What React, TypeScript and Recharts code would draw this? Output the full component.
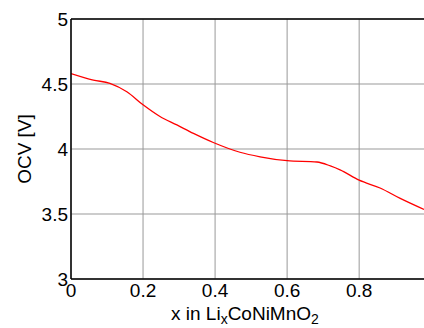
import { LineChart, Line, XAxis, YAxis, CartesianGrid, ReferenceLine } from "recharts";

// state of charge x in LixCoNiMnO2
const xValues = [0, 0.062, 0.108, 0.155, 0.2, 0.247, 0.294, 0.34, 0.395, 0.469, 0.525, 0.6, 0.683, 0.72, 0.747, 0.8, 0.858, 0.914, 0.98];
// open circuit voltage [V]
const ocvValues = [4.58, 4.53, 4.505, 4.44, 4.34, 4.25, 4.185, 4.12, 4.05, 3.975, 3.94, 3.91, 3.9, 3.87, 3.84, 3.76, 3.7, 3.62, 3.535];

const xTicks = [0, 0.2, 0.4, 0.6, 0.8];
const yTicks = [3, 3.5, 4, 4.5, 5];

const data = xValues.map((x, i) => ({ x, ocv: ocvValues[i] }));

const FONT = "Liberation Sans, Arial, sans-serif";
const FS = 19;

function XLabel() {
  return (
    <text x={171} y={320} fontSize={FS} fontFamily={FONT} fill="#000">
      <tspan>x in Li</tspan>
      <tspan dy={4} fontSize={14}>x</tspan>
      <tspan dy={-4}>CoNiMnO</tspan>
      <tspan dy={4} fontSize={14}>2</tspan>
    </text>
  );
}

export default function App() {
  return (
    <div style={{ position: "absolute", left: 0, top: 0, background: "#fff" }}>
      <LineChart width={424} height={328} data={data} margin={{ top: 19, right: 0, bottom: 0, left: 0 }}>
        <CartesianGrid stroke="#999" strokeWidth={1} horizontalValues={yTicks} verticalValues={xTicks} />
        <XAxis
          dataKey="x"
          type="number"
          domain={[0, 0.98]}
          ticks={xTicks}
          allowDataOverflow
          height={49}
          stroke="#000"
          strokeWidth={1.5}
          tickLine={false}
          tickSize={5}
          tickMargin={0}
          tick={{ fontSize: FS, fill: "#000", fontFamily: FONT }}
          label={<XLabel />}
        />
        <YAxis
          type="number"
          domain={[3, 5]}
          ticks={yTicks}
          width={71}
          stroke="#000"
          strokeWidth={1.5}
          tickLine={false}
          tickSize={3}
          tickMargin={0}
          tick={{ fontSize: FS, fill: "#000", fontFamily: FONT }}
          label={{
            value: "OCV [V]",
            angle: -90,
            position: "insideLeft",
            offset: 24,
            style: { fontSize: FS, fill: "#000", fontFamily: FONT, textAnchor: "middle" },
          }}
        />
        <ReferenceLine y={5} stroke="#000" strokeWidth={1.5} />
        <Line
          type="monotone"
          dataKey="ocv"
          stroke="#ff0000"
          strokeWidth={1.3}
          dot={false}
          isAnimationActive={false}
        />
      </LineChart>
    </div>
  );
}
